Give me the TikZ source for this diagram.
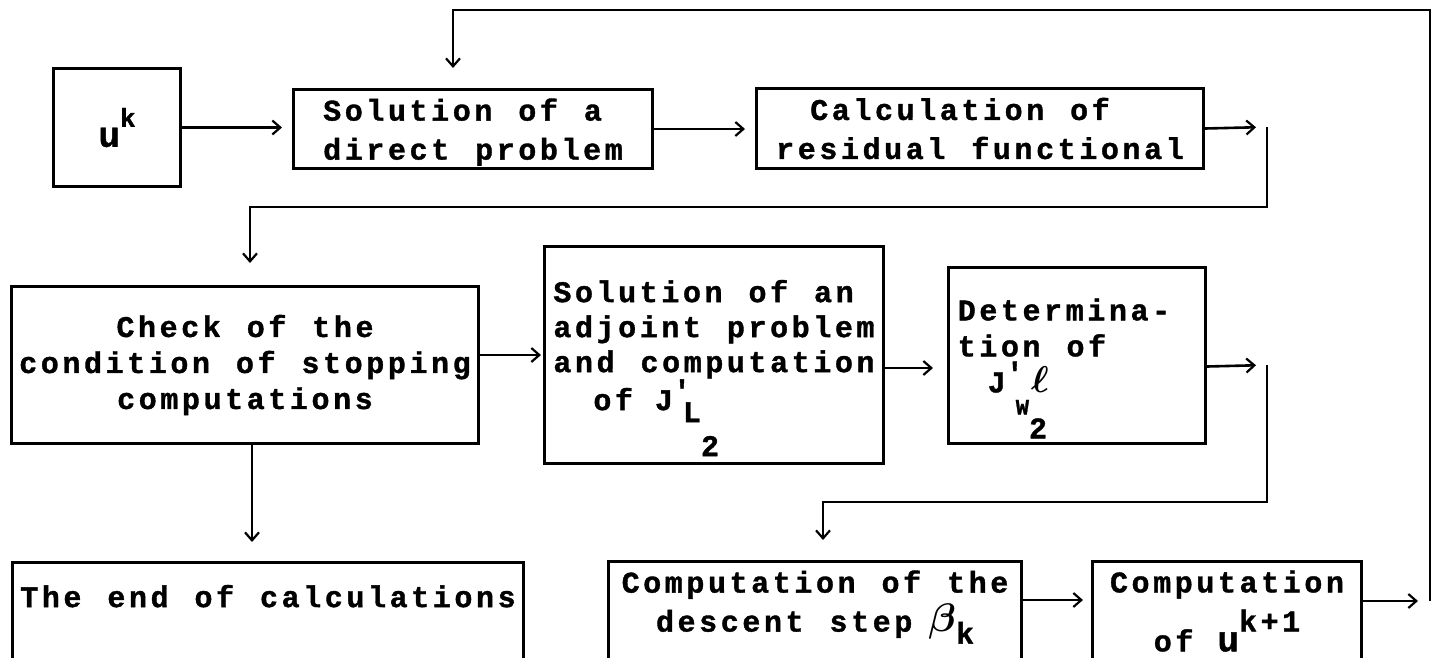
\documentclass[tikz,border=0pt]{standalone}
\usepackage{fontspec}
\usepackage{amsmath}
\usetikzlibrary{arrows.meta}
\newfontfamily\typefont{Liberation Mono}[LetterSpace=12, WordSpace=1.2,
  BoldFeatures={FakeBold=1.2}]

\begin{document}
\begin{tikzpicture}[x=1pt,y=-1pt,
  block/.style={draw, line width=3pt, inner sep=0pt, anchor=north west,
    font=\typefont\bfseries\fontsize{30}{39}\selectfont},
  flow/.style={line width=2.6pt, shorten >=10pt,
    -{Straight Barb[length=8pt,width=14pt,line width=2.2pt]}}]
\useasboundingbox (0,0) rectangle (1432,657);
\clip (0,0) rectangle (1432,657);

% first row
\node[block, minimum width=127pt, minimum height=118pt] (uk) at (52,67)
  {{\fontsize{36}{36}\selectfont u}\raisebox{20pt}{\fontsize{26}{26}\selectfont k}};
\node[block, align=left, minimum width=359pt, minimum height=79pt, text depth=0pt] (direct) at (292,88)
  {Solution of a\\direct problem};
\node[block, align=center, minimum width=447pt, minimum height=80pt] (resid) at (755,87)
  {Calculation of\hspace*{40pt}\\residual functional};

% second row
\node[block, align=center, minimum width=467pt, minimum height=157pt,
  font=\typefont\bfseries\fontsize{30}{36}\selectfont] (check) at (10,285)
  {Check of the\\condition of stopping\\computations};
\node[block, align=left, minimum width=339pt, minimum height=217pt, text depth=20pt,
  font=\typefont\bfseries\fontsize{30}{35}\selectfont] (adjoint) at (543,245)
  {Solution of an\\adjoint problem\\and computation\\
   \hspace{40pt}of\hspace{22pt}J\raisebox{9pt}{'}\hspace{-8pt}\raisebox{-12pt}{L}\raisebox{-46pt}{2}};
\node[block, align=left, minimum width=257pt, minimum height=176pt, text depth=20pt,
  font=\typefont\bfseries\fontsize{30}{36}\selectfont] (determ) at (947,266)
  {Determina-\hspace*{26pt}\\tion of\\
   \hspace{30pt}J\raisebox{9pt}{'}\hspace{-8pt}\raisebox{-22pt}{\fontsize{22}{22}\selectfont W}%
   \rlap{\raisebox{-46pt}{2}}\hspace{2pt}\scalebox{1.5}{$\boldsymbol{\ell}$}};

% third row, cut by the lower edge
\node[block, align=center, minimum width=511pt, minimum height=130pt,
  text depth=63pt] (finish) at (11,561)
  {The end of calculations};
\node[block, align=center, minimum width=413pt, minimum height=130pt,
  text depth=51pt] (descent) at (607,560)
  {Computation of the\\descent step\hspace{16pt}\scalebox{1.6}{$\boldsymbol{\beta}$}\raisebox{-12pt}{k}};
\node[block, align=center, minimum width=269pt, minimum height=130pt,
  text depth=31pt] (update) at (1091,560)
  {Computation\\[10pt]of\hspace{24pt}{\fontsize{36}{36}\selectfont u}\raisebox{20pt}{k+1}};

% bends of the connectors
\coordinate (bendA) at (1267,127);
\coordinate (turnA) at (1267,207);
\coordinate (bendB) at (1267,365);
\coordinate (turnB) at (1267,502);
\coordinate (bendC) at (1430,601);
\coordinate (turnC) at (1430,10);

\draw[flow] (uk.east) -- (uk.east -| direct.west);
\draw[flow] (direct.east) -- (direct.east -| resid.west);
\draw[flow, shorten >=11pt] (resid.east) -- (bendA);
\draw[flow, shorten >=22pt] (bendA) -- (turnA) -| ([xshift=5pt]check.north);
\draw[flow, shorten >=2pt] (check.east |- adjoint.west) -- (adjoint.west);
\draw[flow, shorten >=19pt] ([xshift=7pt]check.south) -- ([xshift=7pt]check.south |- finish.north);
\draw[flow, shorten >=14pt] ([yshift=-13pt]adjoint.east) -- ([yshift=-13pt]adjoint.east -| determ.west);
\draw[flow, shorten >=11pt] ([yshift=-11pt]determ.east) -- (bendB);
\draw[flow, shorten >=20pt] (bendB) -- (turnB) -| ([xshift=8pt]descent.north);
\draw[flow, shorten >=8pt] ([yshift=-40pt]descent.north east) -- ([yshift=-40pt]update.north west);
\draw[flow, shorten >=12pt] ([yshift=-41pt]update.north east) -- (bendC);
\draw[flow, shorten >=20pt] (bendC) -- (turnC) -| ([xshift=-20pt]direct.north);
\end{tikzpicture}
\end{document}
